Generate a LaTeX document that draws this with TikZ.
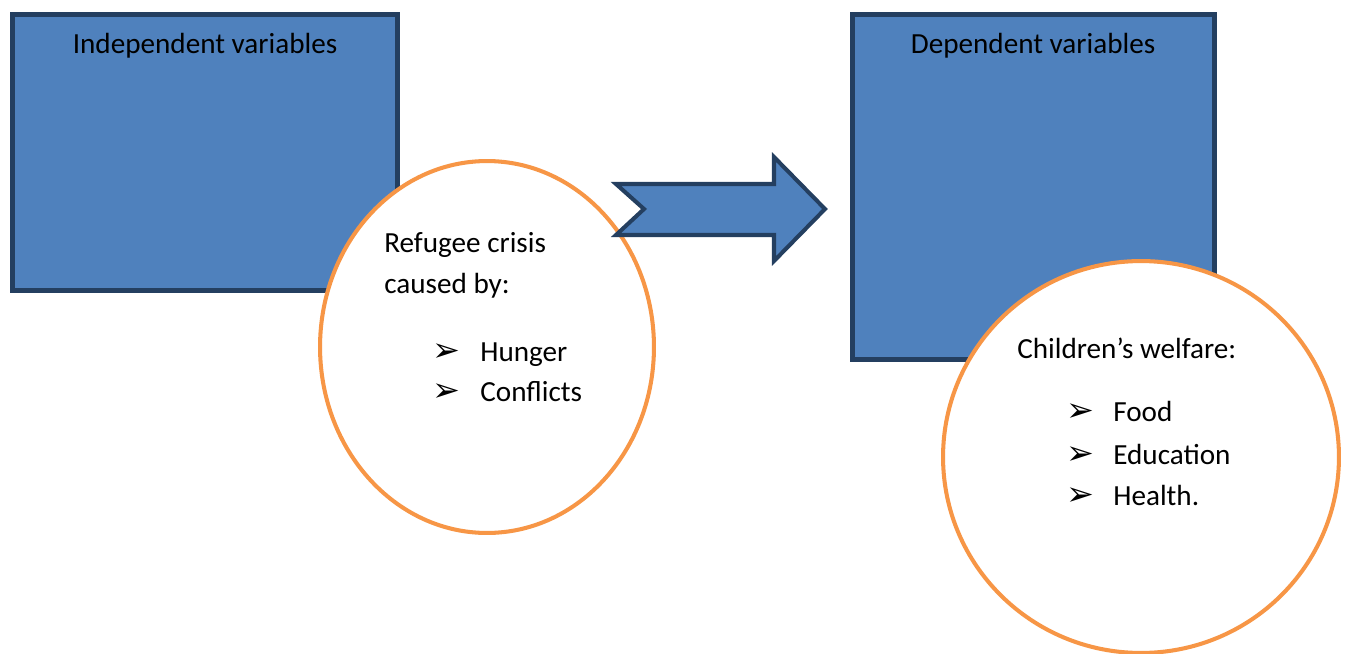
\documentclass[tikz,border=0pt]{standalone}
\usepackage{fontspec}
\setmainfont{Carlito}
\newfontfamily\dingfont{DejaVu Sans}
\usetikzlibrary{shapes.geometric}
\definecolor{boxfill}{HTML}{4F81BD}
\definecolor{boxline}{HTML}{243F60}
\definecolor{bubbleline}{HTML}{F79646}
\tikzset{
    varbox/.style={draw=boxline, fill=boxfill, line width=2.8pt, inner sep=0pt},
    bubble/.style={ellipse, draw=bubbleline, fill=white, line width=2.3pt, inner sep=0pt},
    txt/.style={anchor=base west, inner sep=0pt, font=\fontsize{16.6}{20}\selectfont},
    bul/.style={anchor=base west, inner sep=0pt, font=\dingfont\fontsize{19}{22}\selectfont}
}
\newcommand{\arrowbul}{➢}

\begin{document}
\begin{tikzpicture}[x=0.02cm, y=-0.02cm]
    \useasboundingbox (0,0) rectangle (1346,653);
    \node[varbox, minimum width=7.7cm, minimum height=5.52cm] (indep) at (205,152.5) {};
    \node[anchor=base, inner sep=0pt, font=\fontsize{16.6}{20}\selectfont] (indeplabel) at (205,53) {Independent variables};
    \node[bubble, minimum width=6.68cm, minimum height=7.44cm] (cause) at (487,347) {};
    \draw[draw=boxline, fill=boxfill, line width=2.3pt, line join=miter]
        (616,184) -- (774,184) -- (774,157) -- (825,209) -- (774,261) -- (774,235)
        -- (616,235) -- (644,209) -- cycle;
    \node[txt] (refugee) at (384,252) {Refugee crisis};
    \node[txt] (causedby) at (384,293) {caused by:};
    \node[bul] (b1) at (432,361) {\arrowbul};
    \node[txt] (hunger) at (480,361) {Hunger};
    \node[bul] (b2) at (432,401) {\arrowbul};
    \node[txt] (conflicts) at (480,401) {Conflicts};
    \node[varbox, minimum width=7.24cm, minimum height=6.9cm] (dep) at (1033.5,187) {};
    \node[anchor=base, inner sep=0pt, font=\fontsize{16.6}{20}\selectfont] (deplabel) at (1033,53) {Dependent variables};
    \node[bubble, minimum width=7.92cm, minimum height=7.84cm] (welfare) at (1141,457) {};
    \node[txt] (children) at (1017,358) {Children’s welfare:};
    \node[bul] (b3) at (1066,421) {\arrowbul};
    \node[txt] (food) at (1113,421) {Food};
    \node[bul] (b4) at (1066,464) {\arrowbul};
    \node[txt] (education) at (1113,464) {Education};
    \node[bul] (b5) at (1066,505) {\arrowbul};
    \node[txt] (health) at (1113,505) {Health.};
\end{tikzpicture}
\end{document}
